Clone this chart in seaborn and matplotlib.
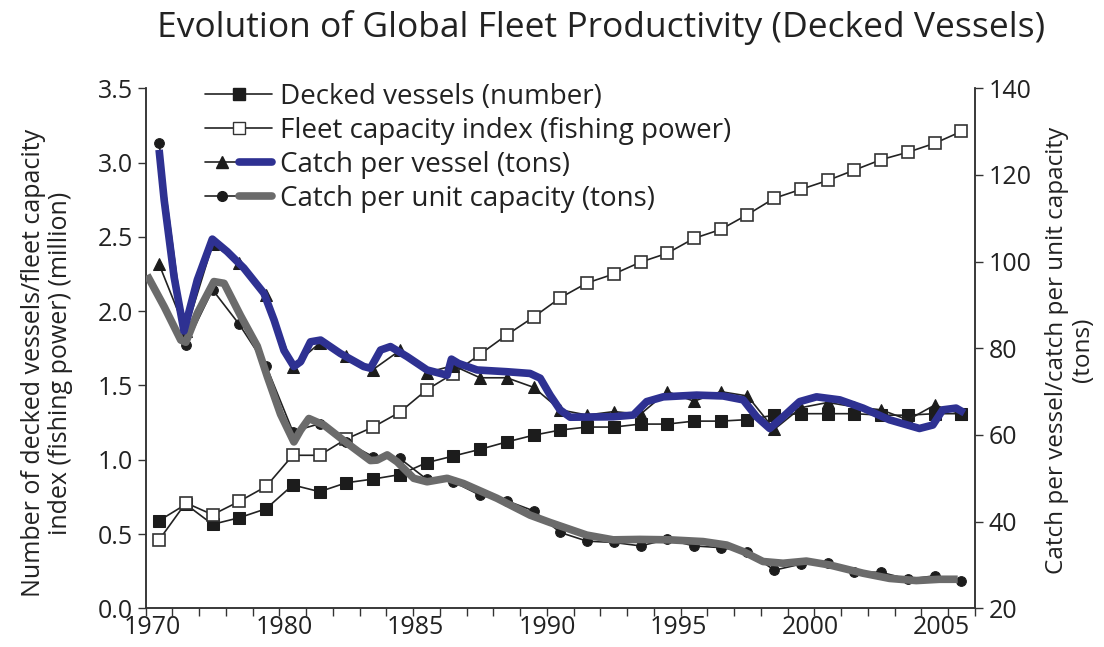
import numpy as np
import pandas as pd
import matplotlib
matplotlib.use("Agg")
import matplotlib.pyplot as plt
from matplotlib.lines import Line2D
from matplotlib.legend_handler import HandlerTuple
import seaborn as sns

# ---------------- data ----------------
categories = list(range(31))
year_labels = ["1970", "1980", "1985", "1990", "1995", "2000", "2005"]

decked_vessels = [0.59, 0.70, 0.565, 0.61, 0.67, 0.83, 0.785, 0.845, 0.87, 0.90,
                  0.98, 1.025, 1.07, 1.12, 1.165, 1.20, 1.22, 1.22, 1.24, 1.24,
                  1.26, 1.26, 1.27, 1.30, 1.31, 1.31, 1.31, 1.30, 1.30, 1.31, 1.31]

capacity_index = [0.46, 0.71, 0.63, 0.72, 0.82, 1.03, 1.03, 1.14, 1.22, 1.32,
                  1.47, 1.58, 1.71, 1.84, 1.96, 2.09, 2.19, 2.25, 2.33, 2.39,
                  2.49, 2.55, 2.65, 2.76, 2.82, 2.88, 2.95, 3.02, 3.07, 3.13, 3.21]

catch_per_vessel = [99.4, 84.0, 104.0, 99.8, 92.3, 75.8, 81.2, 78.3, 75.1, 79.5,
                    74.4, 76.0, 73.2, 73.2, 71.0, 65.8, 64.6, 65.4, 64.8, 70.0,
                    67.8, 70.0, 69.0, 61.3, 66.3, 67.5, 66.5, 65.8, 63.5, 66.9, 64.8]

catch_per_capacity = [127.3, 80.8, 93.5, 85.5, 76.0, 60.8, 62.6, 58.3, 55.0, 54.6,
                      49.8, 49.2, 46.1, 44.8, 42.5, 37.5, 35.5, 35.2, 34.4, 35.9,
                      34.4, 34.0, 33.1, 28.8, 30.2, 30.5, 28.4, 28.3, 26.7, 27.5, 26.3]

# thick smoothed overlay curves as traced on the picture (category units, tons)
blue_x = [0.00, 0.19, 0.56, 0.93, 1.43, 1.99, 2.55, 3.17, 3.92, 4.30, 4.67, 5.04,
          5.29, 5.66, 6.04, 6.78, 7.65, 7.90, 8.28, 8.65, 9.27, 10.02, 10.77,
          10.93, 11.20, 11.89, 13.00, 13.87, 14.25, 14.62, 14.99, 15.37, 16.98,
          17.73, 18.23, 18.85, 20.10, 21.09, 21.84, 22.34, 22.83, 23.33, 23.95,
          24.58, 25.45, 26.32, 27.31, 28.43, 28.93, 29.30, 29.80, 30.11]
blue_y = [125.8, 114.2, 96.5, 84.0, 95.8, 105.2, 102.3, 98.5, 92.7, 86.5, 79.5, 75.8,
          76.9, 81.5, 81.9, 78.8, 75.8, 75.4, 79.6, 80.4, 78.1, 75.0, 73.8,
          77.5, 76.5, 75.0, 74.6, 74.2, 73.1, 69.2, 65.8, 64.1, 64.2,
          64.6, 67.7, 68.8, 69.2, 69.0, 68.1, 64.2, 61.5, 64.2, 67.7,
          68.8, 68.1, 66.2, 63.5, 61.5, 62.3, 65.8, 66.2, 65.1]

grey_x = [-0.45, 0.19, 0.81, 1.00, 1.43, 2.05, 2.43, 3.05, 3.67, 4.05, 4.54, 5.04,
          5.29, 5.60, 6.16, 7.03, 7.90, 8.15, 8.53, 8.90, 9.52, 10.02, 10.77,
          11.38, 12.63, 13.87, 14.62, 15.99, 16.98, 17.98, 19.10, 20.34, 21.22,
          21.84, 22.58, 23.33, 24.20, 25.07, 26.32, 27.31, 28.31, 29.18, 29.86]
grey_y = [96.9, 89.6, 81.9, 81.4, 88.1, 95.4, 95.0, 87.5, 80.5, 73.4, 64.8, 58.4,
          61.1, 63.8, 62.3, 58.1, 54.1, 54.2, 55.4, 53.8, 50.0, 49.2, 50.0,
          48.8, 45.4, 41.5, 39.8, 36.9, 35.8, 35.9, 35.8, 35.4, 34.6,
          33.1, 30.8, 30.4, 30.9, 30.0, 28.1, 26.9, 26.4, 26.7, 26.7]

labels = ["Decked vessels (number)", "Fleet capacity index (fishing power)",
          "Catch per vessel (tons)", "Catch per unit capacity (tons)"]
title = "Evolution of Global Fleet Productivity (Decked Vessels)"

# ---------------- styling ----------------
sns.set_style("ticks")
plt.rcParams['font.family'] = ['Open Sans', 'DejaVu Sans']
INK = "#222222"
BLUE = "#2E3192"
GREY = "#6B6B6B"

fig = plt.figure(figsize=(11.04, 6.47), dpi=100)
ax = fig.add_axes([0.132, 0.0598, 0.751, 0.8037])
ax2 = ax.twinx()

df = pd.DataFrame({"cat": categories, "decked": decked_vessels, "cap": capacity_index,
                   "cpv": catch_per_vessel, "cpc": catch_per_capacity})

sns.lineplot(data=df, x="cat", y="decked", ax=ax, color=INK, lw=1.2, sort=False,
             marker="s", markersize=9, markerfacecolor="#1c1c1c",
             markeredgecolor="#1c1c1c", zorder=3)
sns.lineplot(data=df, x="cat", y="cap", ax=ax, color=INK, lw=1.2, sort=False,
             marker="s", markersize=9, markerfacecolor="white",
             markeredgecolor="#333333", markeredgewidth=1.2, zorder=3)
sns.lineplot(data=df, x="cat", y="cpv", ax=ax2, color=INK, lw=1.2, sort=False,
             marker="^", markersize=8.5, markerfacecolor="#1c1c1c",
             markeredgecolor="#1c1c1c", zorder=2)
sns.lineplot(data=df, x="cat", y="cpc", ax=ax2, color=INK, lw=1.2, sort=False,
             marker="o", markersize=7, markerfacecolor="#1c1c1c",
             markeredgecolor="#1c1c1c", zorder=2)
sns.lineplot(x=grey_x, y=grey_y, ax=ax2, color=GREY, lw=5.5, sort=False,
             solid_joinstyle="round", solid_capstyle="butt", zorder=4)
sns.lineplot(x=blue_x, y=blue_y, ax=ax2, color=BLUE, lw=5.5, sort=False,
             solid_joinstyle="round", solid_capstyle="butt", zorder=5)

# axes limits / ticks
ax.set_xlim(-0.5, 30.5)
ax.set_ylim(0, 3.5)
ax2.set_ylim(20, 140)
ax.set_yticks(np.arange(0, 3.51, 0.5))
ax.set_yticklabels([f"{v:.1f}" for v in np.arange(0, 3.51, 0.5)])
ax2.set_yticks(np.arange(20, 141, 20))

label_pos = [-0.24 + 4.915 * k for k in range(len(year_labels))]
ax.set_xticks(label_pos)
ax.set_xticklabels(year_labels)
ax.set_xticks(np.arange(-0.5, 31, 1.0), minor=True)
ax.tick_params(axis="x", which="major", length=0, pad=5, labelsize=18, labelcolor=INK)
ax.tick_params(axis="x", which="minor", length=6, width=1, direction="out", color="#333333")
ax.tick_params(axis="y", length=6, width=1, direction="out", labelsize=18,
               labelcolor=INK, color="#333333", pad=3)
ax2.tick_params(axis="y", length=6, width=1, direction="out", labelsize=18,
                labelcolor=INK, color="#333333", pad=4)

for a in (ax, ax2):
    a.set_xlabel("")
    a.set_ylabel("")
    a.spines["top"].set_visible(False)
    for s in ("left", "right", "bottom"):
        a.spines[s].set_linewidth(1.1)
        a.spines[s].set_color("#333333")
    a.grid(False)

fig.text(0.0426, 0.439, "Number of decked vessels/fleet capacity\nindex (fishing power) (million)",
         rotation=90, ha="center", va="center", fontsize=18, color=INK, linespacing=1.1)
fig.text(0.969, 0.459, "Catch per vessel/catch per unit capacity\n(tons)",
         rotation=90, ha="center", va="center", fontsize=17.5, color=INK, linespacing=1.1)
fig.text(0.544, 0.958, title, ha="center", va="center", fontsize=25.5, color=INK)

# legend
h1 = Line2D([], [], color=INK, lw=1.2, marker="s", ms=8, mfc="#1c1c1c", mec="#1c1c1c")
h2 = Line2D([], [], color=INK, lw=1.2, marker="s", ms=8, mfc="white", mec="#333333")
h3 = (Line2D([], [], color=INK, lw=1.2, marker="^", ms=8, mfc="#1c1c1c", mec="#1c1c1c"),
      Line2D([], [], color=BLUE, lw=5.5))
h4 = (Line2D([], [], color=INK, lw=1.2, marker="o", ms=7, mfc="#1c1c1c", mec="#1c1c1c"),
      Line2D([], [], color=GREY, lw=5.5))
leg = fig.legend([h1, h2, h3, h4], labels, loc="upper left",
                 bbox_to_anchor=(0.186, 0.872), frameon=False, fontsize=20,
                 handlelength=2.4, handletextpad=0.3, labelspacing=0.22,
                 borderpad=0, borderaxespad=0,
                 handler_map={tuple: HandlerTuple(ndivide=None)})
for t in leg.get_texts():
    t.set_color(INK)

fig.savefig("out.png", dpi=100)
